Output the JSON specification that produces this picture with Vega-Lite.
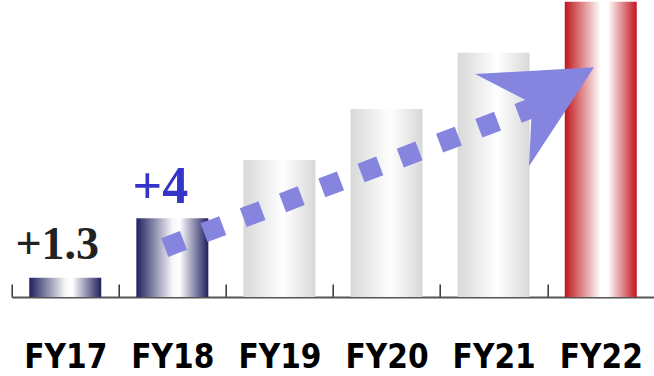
{
  "$schema": "https://vega.github.io/schema/vega-lite/v6.json",
  "autosize": {"type": "none"},
  "padding": {"left": 11.7, "top": 0, "right": 0, "bottom": 79},
  "width": 642.6,
  "height": 297,
  "background": "white",
  "config": {
    "view": {"stroke": null},
    "axis": {"grid": false}
  },
  "datasets": {
    "bars": [
      {"fy": "FY17", "value": 1.3, "group": "past"},
      {"fy": "FY18", "value": 5.3, "group": "past"},
      {"fy": "FY19", "value": 9.23, "group": "plan"},
      {"fy": "FY20", "value": 12.66, "group": "plan"},
      {"fy": "FY21", "value": 16.45, "group": "plan"},
      {"fy": "FY22", "value": 19.89, "group": "target"}
    ],
    "labels": [
      {"fy": "FY17", "value": 1.3, "label": "+1.3"},
      {"fy": "FY18", "value": 5.3, "label": "+4"}
    ],
    "arrow": [
      {"ax": 1.429, "ay": 3.33},
      {"ax": 4.933, "ay": 12.93}
    ],
    "head": [
      {"ax": 5.437, "ay": 15.47}
    ]
  },
  "resolve": {"scale": {"x": "independent"}},
  "layer": [
    {
      "layer": [
        {
          "data": {"name": "bars"},
          "transform": [{"filter": "datum.group == 'past'"}],
          "mark": {"type": "bar", "width": {"band": 0.672},
            "color": {"gradient": "linear", "x1": 0, "x2": 1, "y1": 0, "y2": 0,
              "stops": [
                {"offset": 0, "color": "#1f205d"},
                {"offset": 0.5, "color": "#f6f6f8"},
                {"offset": 0.6, "color": "#ffffff"},
                {"offset": 1, "color": "#1f205d"}
              ]}},
          "encoding": {
            "x": {"field": "fy", "type": "nominal",
              "scale": {"domain": ["FY17", "FY18", "FY19", "FY20", "FY21", "FY22"], "paddingInner": 0, "paddingOuter": 0},
              "axis": {"title": null, "labelAngle": 0, "domainColor": "#555555", "domainWidth": 2,
                "tickColor": "#333333", "tickWidth": 1.5, "tickSize": -13, "tickBand": "extent",
                "labelFont": "DejaVu Sans Condensed, sans-serif", "labelFontWeight": "bold",
                "labelFontSize": 33, "labelColor": "#000000", "labelBaseline": "alphabetic", "labelPadding": 84}},
            "y": {"field": "value", "type": "quantitative", "scale": {"domain": [0, 20], "nice": false}, "axis": null}
          }
        },
        {
          "data": {"name": "bars"},
          "transform": [{"filter": "datum.group == 'plan'"}],
          "mark": {"type": "bar", "width": {"band": 0.672},
            "color": {"gradient": "linear", "x1": 0, "x2": 1, "y1": 0, "y2": 0,
              "stops": [
                {"offset": 0, "color": "#d8d8d8"},
                {"offset": 0.55, "color": "#ffffff"},
                {"offset": 1, "color": "#d8d8d8"}
              ]}},
          "encoding": {
            "x": {"field": "fy", "type": "nominal"},
            "y": {"field": "value", "type": "quantitative"}
          }
        },
        {
          "data": {"name": "bars"},
          "transform": [{"filter": "datum.group == 'target'"}],
          "mark": {"type": "bar", "width": {"band": 0.672},
            "color": {"gradient": "linear", "x1": 0, "x2": 1, "y1": 0, "y2": 0,
              "stops": [
                {"offset": 0, "color": "#c0161d"},
                {"offset": 0.5, "color": "#ffffff"},
                {"offset": 0.6, "color": "#ffffff"},
                {"offset": 1, "color": "#c0161d"}
              ]}},
          "encoding": {
            "x": {"field": "fy", "type": "nominal"},
            "y": {"field": "value", "type": "quantitative"}
          }
        },
        {
          "data": {"name": "labels"},
          "transform": [{"filter": "datum.fy == 'FY17'"}],
          "mark": {"type": "text", "font": "Liberation Serif, serif", "fontWeight": "bold", "fontSize": 46,
            "color": "#222222", "align": "center", "baseline": "alphabetic", "dx": -8, "dy": -19},
          "encoding": {
            "x": {"field": "fy", "type": "nominal"},
            "y": {"field": "value", "type": "quantitative"},
            "text": {"field": "label"}
          }
        },
        {
          "data": {"name": "labels"},
          "transform": [{"filter": "datum.fy == 'FY18'"}],
          "mark": {"type": "text", "font": "Liberation Serif, serif", "fontWeight": "bold", "fontSize": 52,
            "color": "#3434c8", "align": "center", "baseline": "alphabetic", "dx": -12, "dy": -15},
          "encoding": {
            "x": {"field": "fy", "type": "nominal"},
            "y": {"field": "value", "type": "quantitative"},
            "text": {"field": "label"}
          }
        }
      ]
    },
    {
      "layer": [
        {
          "data": {"name": "arrow"},
          "mark": {"type": "line", "color": "#8585e0", "strokeWidth": 20, "strokeDash": [20, 22], "strokeCap": "butt"},
          "encoding": {
            "x": {"field": "ax", "type": "quantitative", "scale": {"domain": [0, 6], "nice": false, "zero": false}, "axis": null},
            "y": {"field": "ay", "type": "quantitative"}
          }
        },
        {
          "data": {"name": "head"},
          "mark": {"type": "point", "filled": true, "opacity": 1, "color": "#8585e0", "strokeWidth": 0,
            "shape": "M0,0 L-1.983,0.112 L-1.033,0.6 L-1.083,1.65 Z", "size": 14400},
          "encoding": {
            "x": {"field": "ax", "type": "quantitative"},
            "y": {"field": "ay", "type": "quantitative"}
          }
        }
      ]
    }
  ]
}
